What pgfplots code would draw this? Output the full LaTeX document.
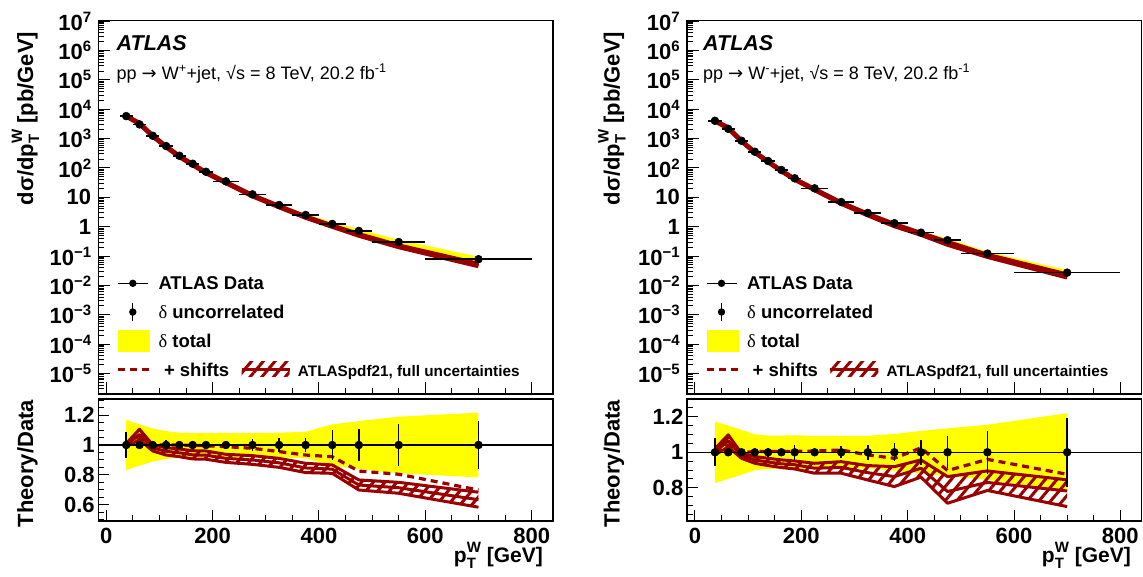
\documentclass[border=0pt]{standalone}
\usepackage{pgfplots}
\pgfplotsset{compat=1.18}
\usepackage{pgfplotstable}
\usepgfplotslibrary{fillbetween}
\usetikzlibrary{patterns.meta}
\usepackage{fontspec}
\setmainfont{Liberation Sans}
\newfontfamily\serif{Liberation Serif}
\newfontfamily\dejavu{DejaVu Sans}
\definecolor{dred}{RGB}{153,0,0}
\definecolor{yel}{RGB}{255,255,0}
\newcommand{\fs}[1]{\fontsize{#1bp}{#1bp}\selectfont}
\newcommand{\ex}[1]{\raisebox{8bp}{\fs{15}#1}}
\newcommand{\subsup}[2]{\rlap{\raisebox{-0.28em}{\fs{15}#1}}\raisebox{0.5em}{\fs{15}#2}}

% x = bin centre, lo/hi = bin edges, d = dsigma/dpT [pb/GeV]
% ed = uncorrelated rel. error, et = total rel. error
% tu/tc/tl = theory/data band (upper, central, lower), s = + shifts
\pgfplotstableread{
x lo hi d ed et tu tc tl s
37.5 25 50 5825 0.085 0.167 1.01 1.0 0.988 1.0
62.5 50 75 3040 0.006 0.138 1.105 1.07 1.035 1.04
87.5 75 100 1245 0.006 0.11 1.0 0.98 0.96 1.0
112.5 100 125 556 0.035 0.093 0.982 0.958 0.933 1.0
137.5 125 150 260 0.01 0.082 0.973 0.948 0.922 1.0
162.5 150 175 139 0.01 0.08 0.962 0.934 0.907 0.998
187.5 175 200 74 0.012 0.08 0.96 0.932 0.905 0.995
225 200 250 35 0.015 0.08 0.938 0.911 0.884 0.989
275 250 300 12.6 0.04 0.08 0.929 0.90 0.871 0.978
325 300 350 5.47 0.044 0.082 0.911 0.881 0.851 0.956
375 350 400 2.50 0.049 0.089 0.878 0.847 0.816 0.933
425 400 450 1.24 0.10 0.138 0.867 0.839 0.811 0.922
475 450 500 0.714 0.109 0.16 0.767 0.733 0.70 0.826
550 500 600 0.30 0.138 0.189 0.751 0.715 0.678 0.805
700 600 800 0.078 0.16 0.216 0.685 0.635 0.585 0.70
}\wplus

\pgfplotstableread{
x lo hi d ed et tu tc tl s
37.5 25 50 4030 0.08 0.173 1.02 1.0 0.985 1.0
62.5 50 75 2155 0.01 0.15 1.098 1.065 1.03 1.04
87.5 75 100 841 0.005 0.126 0.994 0.98 0.966 1.0
112.5 100 125 356 0.01 0.101 0.976 0.957 0.938 1.003
137.5 125 150 172 0.024 0.094 0.966 0.945 0.925 1.005
162.5 150 175 85 0.01 0.094 0.957 0.935 0.914 1.005
187.5 175 200 44.3 0.043 0.096 0.951 0.93 0.906 1.005
225 200 250 20.2 0.02 0.092 0.938 0.91 0.882 1.007
275 250 300 6.92 0.033 0.092 0.947 0.915 0.882 1.013
325 300 350 2.93 0.043 0.093 0.925 0.885 0.844 0.985
375 350 400 1.31 0.05 0.103 0.919 0.863 0.807 0.966
425 400 450 0.625 0.071 0.12 0.957 0.91 0.86 1.025
475 450 500 0.345 0.089 0.135 0.863 0.779 0.713 0.897
550 500 600 0.121 0.121 0.155 0.895 0.83 0.785 0.96
700 600 800 0.0272 0.194 0.22 0.845 0.782 0.694 0.876
}\wminus

\pgfplotsset{
  wbase/.style={scale only axis, width=454.6bp, xmin=-15, xmax=840,
    tick align=inside, xtick pos=left, ytick pos=left,
    xtick={0,200,400,600,800},
    minor xtick={50,100,150,250,300,350,450,500,550,650,700,750},
    axis line style={line width=1.2bp}, tick style={black, line width=1bp},
    tick label style={font=\fs{22}\bfseries},
    /pgf/number format/assume math mode=true,
    xticklabel style={anchor=north, inner sep=0pt, yshift=-6.5bp}},
  wtop/.style={wbase, height=373.5bp, ymin=2e-6, ymax=1.05e7,
    yticklabel style={anchor=east, inner sep=0pt, xshift=-7bp},
    ytick={1e-5,1e-4,1e-3,1e-2,1e-1,1,10,100,1000,1e4,1e5,1e6,1e7},
    yticklabels={10\ex{−5},10\ex{−4},10\ex{−3},10\ex{−2},10\ex{−1},1,10,10\ex{2},10\ex{3},10\ex{4},10\ex{5},10\ex{6},10\ex{7}},
    minor ytick={2e-6,3e-6,4e-6,5e-6,6e-6,7e-6,8e-6,9e-6,
      2e-5,3e-5,4e-5,5e-5,6e-5,7e-5,8e-5,9e-5,
      2e-4,3e-4,4e-4,5e-4,6e-4,7e-4,8e-4,9e-4,
      2e-3,3e-3,4e-3,5e-3,6e-3,7e-3,8e-3,9e-3,
      2e-2,3e-2,4e-2,5e-2,6e-2,7e-2,8e-2,9e-2,
      0.2,0.3,0.4,0.5,0.6,0.7,0.8,0.9,2,3,4,5,6,7,8,9,
      20,30,40,50,60,70,80,90,200,300,400,500,600,700,800,900,
      2e3,3e3,4e3,5e3,6e3,7e3,8e3,9e3,2e4,3e4,4e4,5e4,6e4,7e4,8e4,9e4,
      2e5,3e5,4e5,5e5,6e5,7e5,8e5,9e5,2e6,3e6,4e6,5e6,6e6,7e6,8e6,9e6},
    xticklabels={}, major tick length=12bp, minor tick length=6bp,
    legend columns=2, legend cell align=left,
    legend style={at={(0.0394,0.3258)}, anchor=north west, draw=none, fill=none,
      inner sep=0pt, outer sep=0pt, row sep=6.7bp, /tikz/column sep=6.6bp,
      font=\fs{18.5}\bfseries,
      nodes={inner sep=0pt, text height=17.6bp, text depth=4.4bp}}},
  wratio/.style={wbase, height=122bp,
    yticklabel style={anchor=east, inner sep=0pt, xshift=-3.5bp},
    ytick={0.6,0.8,1,1.2}, yticklabels={0.6,0.8,1,1.2},
    minor ytick={0.5,0.55,0.65,0.7,0.75,0.85,0.9,0.95,1.05,1.1,1.15,1.25,1.3},
    major tick length=11bp, minor tick length=5.5bp},
}

\newcommand{\topplots}[1]{
  \addplot[name path=yu, draw=none, forget plot] table[x=x, y expr={\thisrow{d}*(1+\thisrow{et})}] {#1};
  \addplot[name path=yl, draw=none, forget plot] table[x=x, y expr={\thisrow{d}*(1-\thisrow{et})}] {#1};
  \addplot[yel, forget plot] fill between[of=yu and yl];
  \addplot[name path=tu, draw=none, forget plot] table[x=x, y expr={\thisrow{d}*\thisrow{tu}}] {#1};
  \addplot[name path=tl, draw=none, forget plot] table[x=x, y expr={\thisrow{d}*\thisrow{tl}}] {#1};
  \addplot[dred, forget plot] fill between[of=tu and tl];
  \addplot[dred, line width=4.5bp, line join=round, forget plot] table[x=x, y expr={\thisrow{d}*\thisrow{tu}}] {#1};
  \addplot[dred, line width=4.5bp, line join=round, forget plot] table[x=x, y expr={\thisrow{d}*\thisrow{tl}}] {#1};
  \addplot[black, only marks, mark=*, mark size=3.9bp, mark options={line width=0.6bp}, forget plot,
    error bars/.cd, x dir=both, x explicit, error mark=none,
    error bar style={line width=1.6bp, black}]
    table[x=x, y=d, x error minus expr={\thisrow{x}-\thisrow{lo}}, x error plus expr={\thisrow{hi}-\thisrow{x}}] {#1};
  \addlegendimage{legend image code/.code={
    \draw[black, line width=1.3bp] (0bp,0bp) -- (30bp,0bp);
    \fill[black, draw=none] (15bp,0bp) circle (3.7bp);}}
  \addlegendentry{\rlap{ATLAS Data}}
  \addlegendimage{empty legend}\addlegendentry{}
  \addlegendimage{legend image code/.code={
    \path[draw=none] (0bp,0bp) -- (30bp,0bp);
    \draw[black, line width=1.3bp] (15bp,-9bp) -- (15bp,9bp);
    \fill[black, draw=none] (15bp,0bp) circle (3.7bp);}}
  \addlegendentry{\rlap{{\serif\mdseries δ} uncorrelated}}
  \addlegendimage{empty legend}\addlegendentry{}
  \addlegendimage{legend image code/.code={
    \fill[yel, draw=none] (0bp,-11bp) rectangle (32bp,11bp);}}
  \addlegendentry{\rlap{{\serif\mdseries δ} total}}
  \addlegendimage{empty legend}\addlegendentry{}
  \addlegendimage{legend image code/.code={
    \draw[dred, line width=3.2bp, dash pattern=on 7bp off 5bp] (0bp,0bp) -- (32bp,0bp);}}
  \addlegendentry{\hspace*{6bp}+ shifts}
  \addlegendimage{legend image code/.code={
    \path[draw=none] (-5.8bp,0bp) -- (49.7bp,0bp);
    \fill[draw=none, pattern={Lines[angle=50,distance=9bp,line width=3bp]}, pattern color=dred] (0bp,-7.5bp) rectangle (48bp,7.5bp);
    \draw[dred, line width=2.5bp] (0bp,0bp) -- (48bp,0bp);}}
  \addlegendentry{\fs{15.3}ATLASpdf21, full uncertainties}
}

\newcommand{\ratioplots}[1]{
  \addplot[name path=ru, draw=none] table[x=x, y expr={1+\thisrow{et}}] {#1};
  \addplot[name path=rl, draw=none] table[x=x, y expr={1-\thisrow{et}}] {#1};
  \addplot[yel] fill between[of=ru and rl];
  \addplot[name path=bu, draw=none] table[x=x, y=tu] {#1};
  \addplot[name path=bl, draw=none] table[x=x, y=tl] {#1};
  \addplot[pattern={Lines[angle=50,distance=9bp,line width=3bp]}, pattern color=dred] fill between[of=bu and bl];
  \addplot[dred, line width=3bp, line join=round] table[x=x, y=tu] {#1};
  \addplot[dred, line width=3bp, line join=round] table[x=x, y=tc] {#1};
  \addplot[dred, line width=3bp, line join=round] table[x=x, y=tl] {#1};
  \addplot[dred, line width=3.2bp, dash pattern=on 7bp off 5bp] table[x=x, y=s] {#1};
  \addplot[black, line width=1.3bp] coordinates {(-15,1) (840,1)};
  \addplot[black, only marks, mark=*, mark size=3.9bp, mark options={line width=0.6bp},
    error bars/.cd, y dir=both, y explicit, error mark=none,
    error bar style={line width=1.5bp, black}]
    table[x=x, y expr=1, y error=ed] {#1};
}

\begin{document}
\begin{tikzpicture}

% ---- W+ ----
\begin{axis}[ymode=log, wtop, at={(98.3bp,183bp)}, anchor=south west]
\topplots{\wplus}
\end{axis}
\begin{axis}[wratio, at={(98.3bp,56bp)}, anchor=south west, ymin=0.493, ymax=1.307]
\ratioplots{\wplus}
\end{axis}

% ---- W- ----
\begin{axis}[ymode=log, wtop, at={(687bp,183bp)}, anchor=south west]
\topplots{\wminus}
\end{axis}
\begin{axis}[wratio, at={(687bp,56bp)}, anchor=south west, ymin=0.613, ymax=1.30]
\ratioplots{\wminus}
\end{axis}

% texts
\node[anchor=base west, inner sep=0pt] at (116.5bp,526.6bp) {\fs{21.5}\bfseries\itshape ATLAS};
\node[anchor=base west, inner sep=0pt] at (116.5bp,497.8bp) {\fs{18}pp {\dejavu →} W\textsuperscript{+}+jet, √s = 8 TeV, 20.2 fb\textsuperscript{-1}};
\node[rotate=90, anchor=base east, inner sep=0pt] at (33bp,545.3bp) {\fs{22}\bfseries dσ/dp\subsup{T}{W} [pb/GeV]};
\node[rotate=90, anchor=base east, inner sep=0pt] at (33bp,177bp) {\fs{22}\bfseries Theory/Data};
\node[anchor=base east, inner sep=0pt] at (543bp,14.5bp) {\fs{21}\bfseries p\subsup{T}{W} [GeV]};

\node[anchor=base west, inner sep=0pt] at (703bp,526.6bp) {\fs{21.5}\bfseries\itshape ATLAS};
\node[anchor=base west, inner sep=0pt] at (703bp,497.8bp) {\fs{18}pp {\dejavu →} W\textsuperscript{-}+jet, √s = 8 TeV, 20.2 fb\textsuperscript{-1}};
\node[rotate=90, anchor=base east, inner sep=0pt] at (619.5bp,545.3bp) {\fs{22}\bfseries dσ/dp\subsup{T}{W} [pb/GeV]};
\node[rotate=90, anchor=base east, inner sep=0pt] at (619.5bp,177bp) {\fs{22}\bfseries Theory/Data};
\node[anchor=base east, inner sep=0pt] at (1131bp,14.5bp) {\fs{21}\bfseries p\subsup{T}{W} [GeV]};

\pgfresetboundingbox
\path[use as bounding box] (0,0) rectangle (1143bp,577bp);
\end{tikzpicture}
\end{document}
